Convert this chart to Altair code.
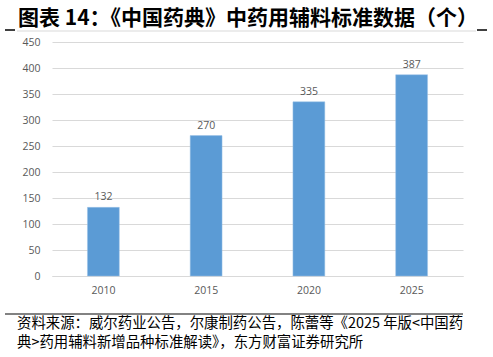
import altair as alt
import pandas as pd

years = ["2010", "2015", "2020", "2025"]
counts = [132, 270, 335, 387]
y_ticks = [0, 50, 100, 150, 200, 250, 300, 350, 400, 450]
title_text = "图表 14：《中国药典》中药用辅料标准数据（个）"
source_line1 = "资料来源：威尔药业公告，尔康制药公告，陈蕾等《2025 年版<中国药"
source_line2 = "典>药用辅料新增品种标准解读》，东方财富证券研究所"

df = pd.DataFrame({"year": years, "count": counts})
one = pd.DataFrame({"a": [0]})

W, H = 411, 234
PL, PT = 52, 42

x_enc = alt.X("year:N", sort=years, title=None,
              scale=alt.Scale(paddingInner=0.69, paddingOuter=0.345),
              axis=alt.Axis(labelAngle=0, labelFont="Open Sans", labelFontSize=10.5,
                            labelColor="#595959", ticks=False, domain=True,
                            domainColor="#D9D9D9", labelPadding=9))
y_enc = alt.Y("count:Q", title=None,
              scale=alt.Scale(domain=[0, 450], nice=False),
              axis=alt.Axis(values=y_ticks, labelFont="Open Sans", labelFontSize=10.5,
                            labelColor="#595959", ticks=False, domain=False,
                            labelOverlap=False,
                            gridColor="#D9D9D9", gridWidth=1, labelPadding=12))

base = alt.Chart(df)
bars = base.mark_bar(color="#5B9BD5", stroke="#9DC3E6", strokeWidth=0.5).encode(
    x=x_enc, y=y_enc)
labels = base.mark_text(baseline="bottom", dy=-5, font="Open Sans", fontSize=10.5,
                        color="#595959").encode(x=x_enc, y=y_enc, text="count:Q")

title = alt.Chart(one).mark_text(align="left", baseline="alphabetic",
                                 font="Noto Sans CJK SC", fontSize=21, fontWeight="bold",
                                 color="#000000").encode(
    x=alt.value(18 - PL), y=alt.value(25 - PT), text=alt.value(title_text))
title_rule = alt.Chart(one).mark_rule(color="#D9D9D9", strokeWidth=1).encode(
    x=alt.value(17 - PL), x2=alt.value(476 - PL), y=alt.value(31 - PT))
left_seg = alt.Chart(one).mark_rule(color="#000000", strokeWidth=1.5).encode(
    x=alt.value(5 - PL), x2=alt.value(15 - PL), y=alt.value(30 - PT))
right_seg = alt.Chart(one).mark_rule(color="#000000", strokeWidth=1.5).encode(
    x=alt.value(477 - PL), x2=alt.value(487 - PL), y=alt.value(30 - PT))
foot_rule = alt.Chart(one).mark_rule(color="#595959", strokeWidth=1.5).encode(
    x=alt.value(5 - PL), x2=alt.value(463 - PL), y=alt.value(314 - PT))
foot1 = alt.Chart(one).mark_text(align="left", baseline="middle",
                                 font="Noto Sans CJK SC", fontSize=14.4,
                                 color="#000000").encode(
    x=alt.value(17 - PL), y=alt.value(324 - PT), text=alt.value(source_line1))
foot2 = alt.Chart(one).mark_text(align="left", baseline="middle",
                                 font="Noto Sans CJK SC", fontSize=14.4,
                                 color="#000000").encode(
    x=alt.value(17 - PL), y=alt.value(343 - PT), text=alt.value(source_line2))

chart = alt.layer(bars, labels, title, title_rule, left_seg, right_seg,
                  foot_rule, foot1, foot2).properties(
    width=W, height=H,
    autosize=alt.AutoSizeParams(type="none"),
    padding={"left": PL, "top": PT, "right": 493 - PL - W, "bottom": 357 - PT - H},
    background="#FFFFFF",
).configure_view(stroke=None)

chart.save("out.html", embed_options={"renderer": "svg", "actions": False})
